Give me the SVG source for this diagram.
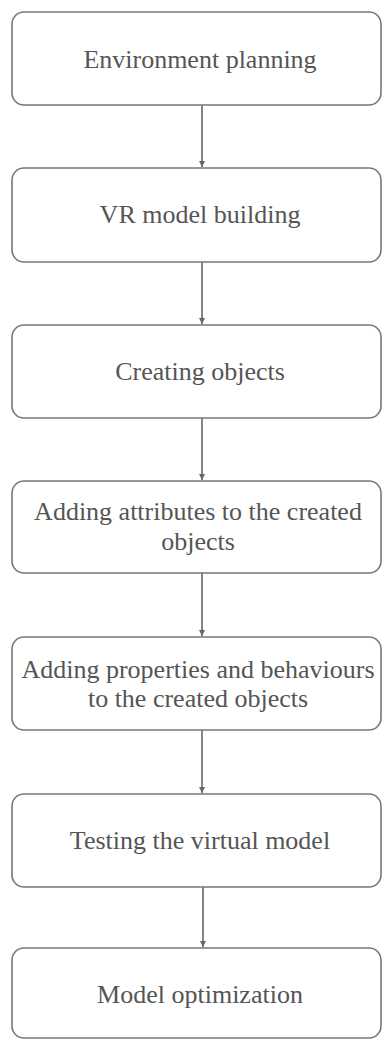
<svg xmlns="http://www.w3.org/2000/svg" width="383" height="1040" viewBox="0 0 383 1040">
  <style>
    .box { fill: #ffffff; stroke: #777777; stroke-width: 1.6; }
    .label { font-size: 26px; fill: #555555; text-anchor: middle; }
    .link { stroke: #666666; stroke-width: 1.6; fill: none; }
  </style>
  <defs>
    <marker id="arrow" viewBox="0 0 8 8" refX="8" refY="4" markerWidth="7" markerHeight="6" markerUnits="userSpaceOnUse" orient="auto">
      <path d="M0,0 L8,4 L0,8 Z" fill="#666666"/>
    </marker>
  </defs>
  <rect width="383" height="1040" fill="#ffffff"/>

  <g id="connectors">
    <line class="link" x1="202" y1="105" x2="202" y2="167" marker-end="url(#arrow)"/>
    <line class="link" x1="202" y1="262" x2="202" y2="324" marker-end="url(#arrow)"/>
    <line class="link" x1="202" y1="418" x2="202" y2="480" marker-end="url(#arrow)"/>
    <line class="link" x1="202" y1="573" x2="202" y2="636" marker-end="url(#arrow)"/>
    <line class="link" x1="202" y1="730" x2="202" y2="793" marker-end="url(#arrow)"/>
    <line class="link" x1="203" y1="887" x2="203" y2="947" marker-end="url(#arrow)"/>
  </g>

  <g font-family="Liberation Serif, Tinos, Times New Roman, DejaVu Serif, serif">
    <g id="environment-planning">
      <rect class="box" x="12" y="12" width="369" height="93" rx="12"/>
      <text class="label" x="200" y="68">Environment planning</text>
    </g>
    <g id="vr-model-building">
      <rect class="box" x="12" y="168" width="369" height="94" rx="12"/>
      <text class="label" x="200" y="223">VR model building</text>
    </g>
    <g id="creating-objects">
      <rect class="box" x="12" y="325" width="369" height="93" rx="12"/>
      <text class="label" x="200" y="380">Creating objects</text>
    </g>
    <g id="adding-attributes">
      <rect class="box" x="12" y="481" width="369" height="92" rx="12"/>
      <text class="label" x="198" y="520">Adding attributes to the created</text>
      <text class="label" x="198" y="550">objects</text>
    </g>
    <g id="adding-properties">
      <rect class="box" x="12" y="637" width="369" height="93" rx="12"/>
      <text class="label" x="198" y="678">Adding properties and behaviours</text>
      <text class="label" x="198" y="707">to the created objects</text>
    </g>
    <g id="testing-model">
      <rect class="box" x="12" y="794" width="369" height="93" rx="12"/>
      <text class="label" x="200" y="849">Testing the virtual model</text>
    </g>
    <g id="model-optimization">
      <rect class="box" x="12" y="948" width="369" height="90" rx="12"/>
      <text class="label" x="200" y="1003">Model optimization</text>
    </g>
  </g>
</svg>
